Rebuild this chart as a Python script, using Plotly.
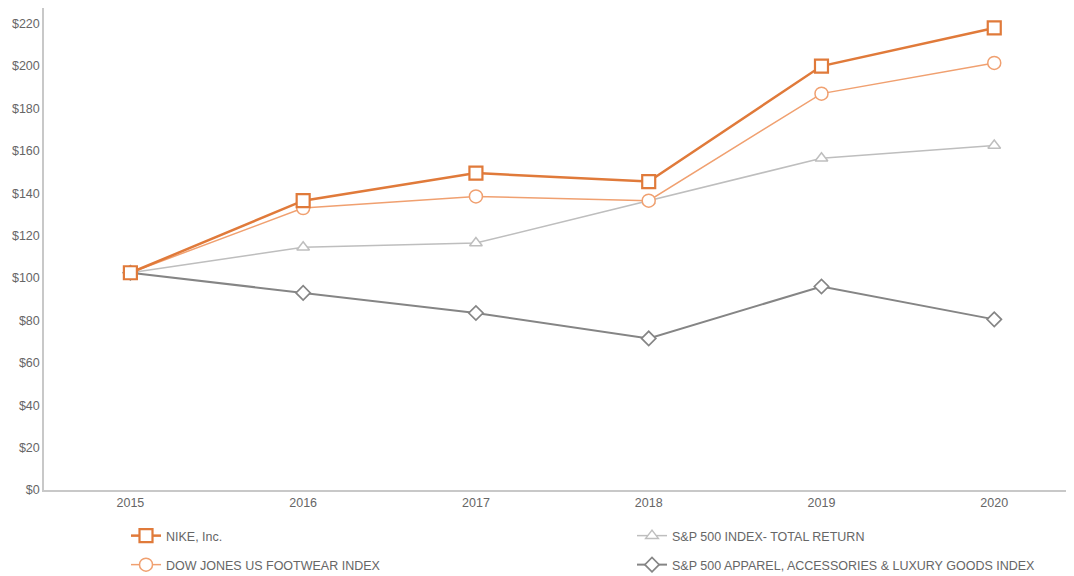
import plotly.graph_objects as go

years = [2015, 2016, 2017, 2018, 2019, 2020]
nike = [102.5, 136.5, 149.5, 145.5, 200.0, 218.0]
dj_footwear = [102.5, 133.0, 138.5, 136.5, 187.0, 201.5]
sp500 = [102.5, 114.5, 116.5, 136.5, 156.5, 162.5]
sp_apparel = [102.5, 93.0, 83.5, 71.5, 96.0, 80.5]

y_ticks = [0, 20, 40, 60, 80, 100, 120, 140, 160, 180, 200, 220]
y_tick_labels = ["$" + str(v) for v in y_ticks]

FONT = "Liberation Sans, Arial, sans-serif"
TXT = "#666666"

series = [
    ("S&P 500 APPAREL, ACCESSORIES & LUXURY GOODS INDEX", sp_apparel, "#858585", 2, "diamond", 11, "legend4"),
    ("S&P 500 INDEX- TOTAL RETURN", sp500, "#bebebe", 1.5, "triangle-up", 11, "legend3"),
    ("DOW JONES US FOOTWEAR INDEX", dj_footwear, "#f0a070", 1.5, "circle", 13, "legend2"),
    ("NIKE, Inc.", nike, "#e07a3a", 2.5, "square", 13, "legend"),
]

fig = go.Figure()
for name, vals, col, w, sym, sz, lg in series:
    fig.add_trace(go.Scatter(
        x=years, y=vals, name=name, mode="lines+markers",
        line=dict(color=col, width=w),
        marker=dict(symbol=sym, size=sz, color="white", line=dict(color=col, width=max(1.5, w - 0.3))),
        legend=lg, showlegend=True,
    ))

leg_common = dict(font=dict(family=FONT, size=12.5, color=TXT), bgcolor="rgba(0,0,0,0)",
                  xanchor="left", yanchor="middle", itemsizing="trace", visible=True)

# page has an 8px body margin; figure sized/offset to compensate
OFF = 8
W, H = 1074 - OFF, 576 - OFF
L, R, T = 44 - OFF, 2, 0
B = H - (490 - OFF)
PW = W - L - R
PH = H - T - B

def lx(px):
    return (px - OFF - L) / PW

def ly(py):
    return -((py - OFF) - (490 - OFF)) / PH

fig.update_layout(
    width=W, height=H,
    showlegend=True,
    margin=dict(l=L, r=R, t=T, b=B, autoexpand=False),
    paper_bgcolor="white", plot_bgcolor="white",
    font=dict(family=FONT, size=12.5, color=TXT),
    xaxis=dict(range=[2014.5, 2020.45], tickvals=years, ticktext=[str(y) for y in years],
               showgrid=False, zeroline=False, showline=True, linecolor="#c8c8c8", linewidth=1.5,
               ticks="", automargin=False, ticklabelstandoff=0,
               tickfont=dict(family=FONT, size=12.5, color=TXT)),
    yaxis=dict(range=[0, 227.4], tickvals=y_ticks, ticktext=y_tick_labels,
               showgrid=False, zeroline=False, showline=True, linecolor="#c8c8c8", linewidth=1.5,
               ticks="", automargin=False,
               tickfont=dict(family=FONT, size=12.5, color=TXT)),
    legend=dict(x=lx(126), y=ly(536), **leg_common),
    legend2=dict(x=lx(126), y=ly(565), **leg_common),
    legend3=dict(x=lx(632), y=ly(536), **leg_common),
    legend4=dict(x=lx(632), y=ly(565), **leg_common),
)

fig.write_html("out.html")
